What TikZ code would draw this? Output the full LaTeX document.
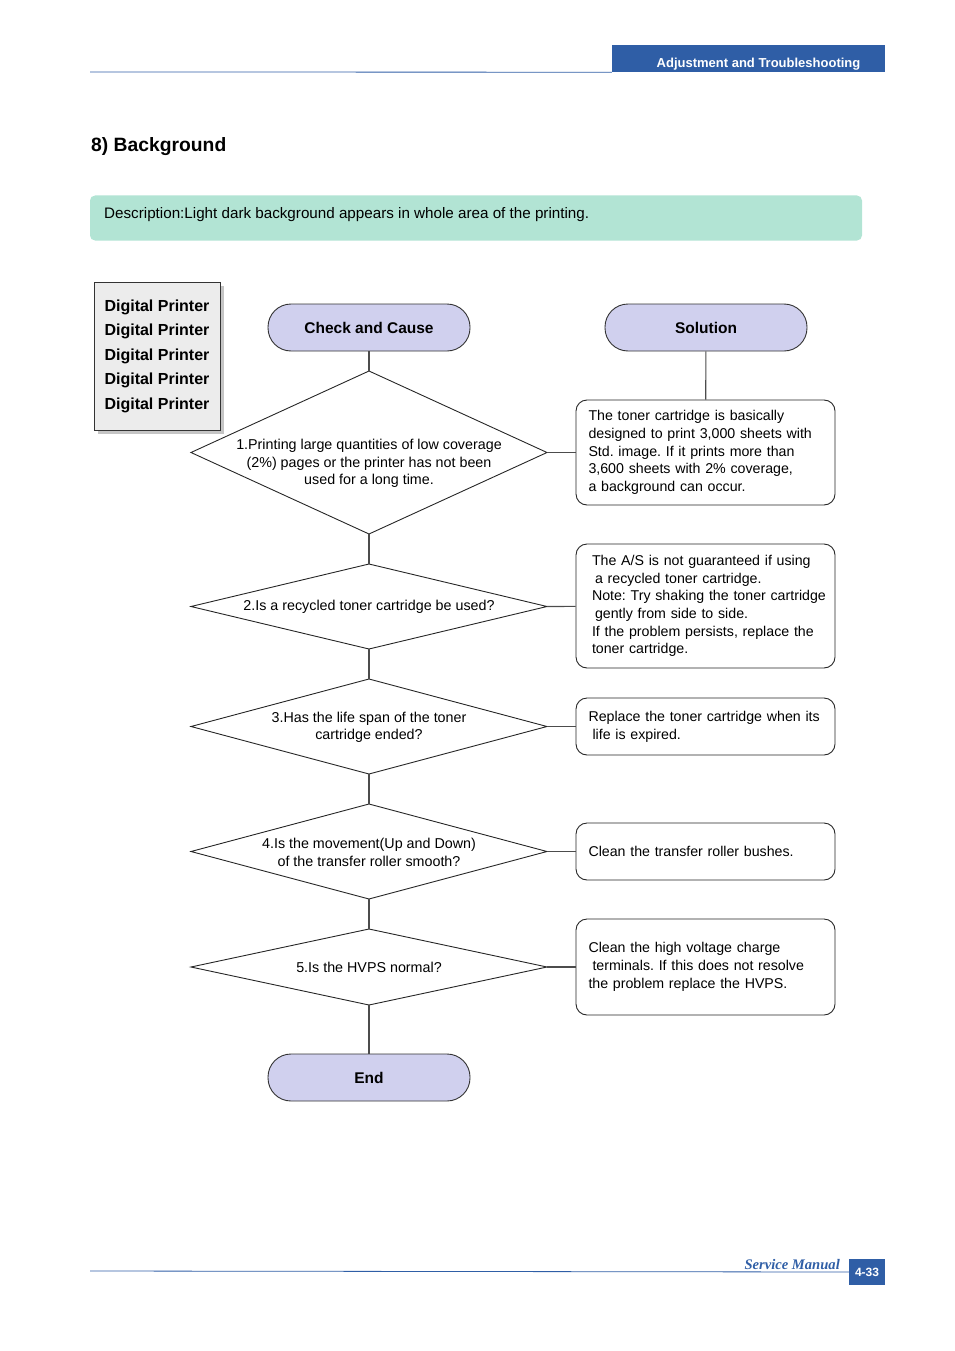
\documentclass[tikz,border=0pt]{standalone}
\usepackage{fontspec}
\setmainfont{Liberation Sans}
\newfontfamily\manualfont{Liberation Serif}
\usetikzlibrary{positioning,shapes.geometric,shadows}
\frenchspacing

\definecolor{hdrblue}{RGB}{47,94,166}
\definecolor{descfill}{RGB}{178,228,212}
\definecolor{causefill}{RGB}{208,208,238}
\definecolor{panelgray}{RGB}{236,236,236}

\tikzset{
    cause/.style={draw=black!80, fill=causefill, rounded corners=23pt, minimum width=202pt, minimum height=47pt, line width=0.9pt, font=\fontsize{15.5}{18}\selectfont\bfseries},
    decision/.style={diamond, draw=black!85, minimum width=356pt, minimum height=163pt, inner sep=0pt, outer sep=0pt, line width=0.9pt},
    qtext/.style={align=center, font=\fontsize{14.3}{17.5}\selectfont},
    fixbox/.style={draw=black!85, rounded corners=11pt, minimum width=259pt, text width=234pt, inner xsep=12.5pt, align=left, line width=0.9pt, font=\fontsize{14.2}{17.7}\selectfont},
    link/.style={black!70, line width=1.1pt}
}

\begin{document}
\begin{tikzpicture}[x=1pt, y=-1pt]
        \useasboundingbox (0,0) rectangle (954,1351);
        % Page frame
        \node (hdr) at (748.5,58.5) [fill=hdrblue, minimum width=273pt, minimum height=27pt, inner sep=0pt, text=white, font=\fontsize{13}{15}\selectfont\bfseries] {\raisebox{-4pt}[\height][0pt]{\hspace{20pt}Adjustment and Troubleshooting}};
        \draw[hdrblue, line width=0.8pt] (90,72) -- (hdr.south west);
        \node (title) at (91,147) [anchor=west, inner sep=0pt, font=\fontsize{19.3}{22}\selectfont\bfseries] {8) Background};
        \node (desc) at (476,218) [fill=descfill, rounded corners=5pt, minimum width=772pt, minimum height=45pt, inner sep=0pt] {};
        \node (desctext) at (104,215) [anchor=west, inner sep=0pt, font=\fontsize{15.2}{17}\selectfont] {Description:Light dark background appears in whole area of the printing.};
        \node (panel) at (157,356) [draw=black!80, fill=panelgray, minimum width=126pt, minimum height=148pt, align=left, line width=0.8pt, drop shadow={shadow xshift=4pt, shadow yshift=-4pt, fill=black!45}, font=\fontsize{16}{24.5}\selectfont\bfseries] {Digital Printer\\Digital Printer\\Digital Printer\\Digital Printer\\Digital Printer};

        % Nodes
        \node (cc) at (369,327.5) [cause] {Check and Cause};
        \node (sol) at (706,327.5) [cause] {Solution};
        \node (d1) at (369,452.5) [decision] {};
        \node (d2) at (369,606.5) [decision, minimum height=85pt] {};
        \node (d3) at (369,726.5) [decision, minimum height=95pt] {};
        \node (d4) at (369,851.5) [decision, minimum height=95pt] {};
        \node (d5) at (369,967) [decision, minimum height=76pt] {};
        \node (end) at (369,1077.5) [cause] {End};
        % Question texts
        \node (q1) at (369,463.5) [qtext] {1.Printing large quantities of low coverage\\(2\%) pages or the printer has not been\\used for a long time.};
        \node (q2) at (d2) [qtext] {2.Is a recycled toner cartridge be used?};
        \node (q3) at (369,727.5) [qtext] {3.Has the life span of the toner\\cartridge ended?};
        \node (q4) at (369,852.5) [qtext] {4.Is the movement(Up and Down)\\of the transfer roller smooth?};
        \node (q5) at (d5) [qtext] {5.Is the HVPS normal?};
        % Solution boxes
        \node (b1) at (705.5,452.5) [fixbox, minimum height=105pt] {The toner cartridge is basically\\designed to print 3,000 sheets with\\Std. image. If it prints more than\\3,600 sheets with 2\% coverage,\\a background can occur.};
        \node (b2) at (705.5,606) [fixbox, minimum height=124pt, text width=243pt, inner xsep=8pt] {\hspace{8pt}The A/S is not guaranteed if using\\\hspace{11pt}a recycled toner cartridge.\\\hspace{8pt}Note: Try shaking the toner cartridge\\\hspace{11pt}gently from side to side.\\\hspace{8pt}If the problem persists, replace the\\\hspace{8pt}toner cartridge.};
        \node (b3) at (705.5,726.5) [fixbox, minimum height=57pt] {Replace the toner cartridge when its\\\hspace{4pt}life is expired.};
        \node (b4) at (705.5,851.5) [fixbox, minimum height=57pt] {Clean the transfer roller bushes.};
        \node (b5) at (705.5,967) [fixbox, minimum height=96pt] {Clean the high voltage charge\\\hspace{4pt}terminals. If this does not resolve\\the problem replace the HVPS.};

        % Edges
        \draw[link] (cc) -- (d1.north);
        \draw[link] (sol) -- (b1);
        \foreach \i/\j in {1/2,2/3,3/4,4/5} {
            \draw[link] (d\i.south) -- (d\j.north);
        }
        \draw[link] (d5.south) -- (end);
        \foreach \i in {1,2,3,4,5} {
            \draw[link] (d\i.east) -- (b\i);
        }

        % Footer
        \node (page) at (867,1272) [fill=hdrblue, minimum width=36pt, minimum height=26pt, inner sep=0pt, text=white, font=\fontsize{12}{14}\selectfont\bfseries] {4-33};
        \node (manual) at (840,1265) [anchor=east, inner sep=0pt, text=hdrblue, font=\fontsize{14.6}{16}\selectfont\manualfont\bfseries\itshape] {Service Manual};
        \draw[hdrblue, line width=0.8pt] (90,1271) -- (page.west);
    \end{tikzpicture}
\end{document}
